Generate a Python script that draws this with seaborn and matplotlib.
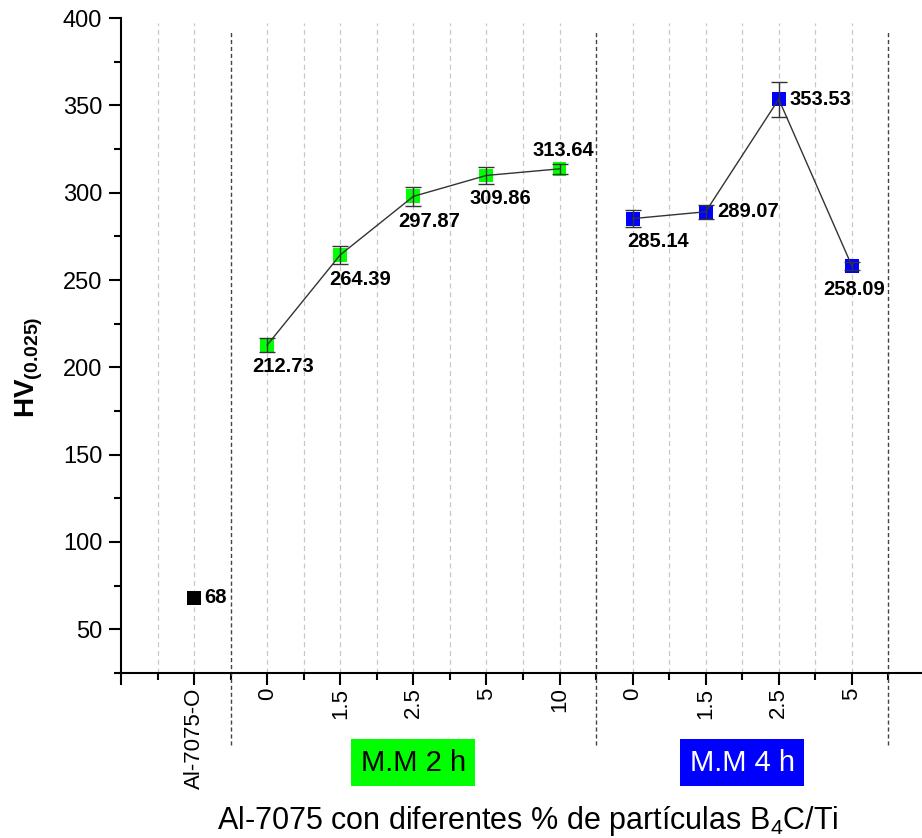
import numpy as np
import pandas as pd
import matplotlib
matplotlib.use('Agg')
import matplotlib.pyplot as plt
import matplotlib.transforms as mtransforms
from matplotlib.ticker import MultipleLocator
import seaborn as sns

# data
tick_labels = ['Al-7075-O', '0', '1.5', '2.5', '5', '10', '0', '1.5', '2.5', '5']
base_hv = [68]
mm2_hv = [212.73, 264.39, 297.87, 309.86, 313.64]
mm2_err = [4, 5, 5.5, 5, 3]
mm4_hv = [285.14, 289.07, 353.53, 258.09]
mm4_err = [5, 4, 10, 2.5]
group_names = ['Al-7075-O', 'M.M 2 h', 'M.M 4 h']
group_colors = {'Al-7075-O': '#000000', 'M.M 2 h': '#00ff00', 'M.M 4 h': '#0000ff'}

df = pd.DataFrame({
    'group': [group_names[0]] * len(base_hv) + [group_names[1]] * len(mm2_hv)
             + [group_names[2]] * len(mm4_hv),
    'hv': base_hv + mm2_hv + mm4_hv,
    'err': [0] * len(base_hv) + mm2_err + mm4_err,
})
df['pos'] = np.arange(1, len(df) + 1)

# label offsets in pixels (dx, dy, ha) per point
label_style = [(10, 0, 'left'), (16, -21, 'center'), (20, -25, 'center'),
               (16, -25, 'center'), (14, -23, 'center'), (4, 18, 'center'),
               (25, -23, 'center'), (12, 0, 'left'), (11, 0, 'left'),
               (2, -24, 'center')]

sns.set_style('ticks')
plt.rcParams['font.family'] = ['Liberation Sans', 'DejaVu Sans']
plt.rcParams['mathtext.fontset'] = 'custom'
plt.rcParams['mathtext.rm'] = 'Liberation Sans'
plt.rcParams['mathtext.bf'] = 'Liberation Sans:bold'
plt.rcParams['mathtext.default'] = 'regular'
plt.rcParams['text.color'] = 'black'
plt.rcParams['axes.labelcolor'] = 'black'
plt.rcParams['xtick.color'] = 'black'
plt.rcParams['ytick.color'] = 'black'

fig = plt.figure(figsize=(9.22, 8.38), dpi=100)
ax = fig.add_axes([121 / 922, 1 - 673 / 838, 1 - 121 / 922, 655 / 838])

ax.set_xlim(0, 10.96)
ax.set_ylim(25, 400)

# separators between sample groups and light grid
seps = [1.5, 6.5, 10.5]
for gx in np.arange(0.5, 10.01, 0.5):
    if gx in seps:
        continue
    ax.axvline(gx, ymax=0.992, color='#c8c8c8', lw=0.9, ls=(0, (4, 3)), zorder=0)
for sx in seps:
    ax.axvline(sx, ymin=-0.11, ymax=0.98, color='#444444', lw=1.0,
               ls=(0, (3, 2)), clip_on=False, zorder=1)

# markers, connecting lines and error bars
sns.scatterplot(data=df, x='pos', y='hv', hue='group', palette=group_colors,
                marker='s', s=100, edgecolor='none', legend=False, ax=ax, zorder=2)
for g in group_names[1:]:
    sub = df[df['group'] == g]
    sns.lineplot(data=sub, x='pos', y='hv', color='#333333', lw=1.0, ax=ax,
                 zorder=3, legend=False)
eb = df[df['err'] > 0]
ax.errorbar(eb['pos'], eb['hv'], yerr=eb['err'], fmt='none', ecolor='#333333',
            elinewidth=1.0, capsize=6, capthick=1.0, zorder=3)

for (p, v), (dx, dy, ha) in zip(zip(df['pos'], df['hv']), label_style):
    ax.annotate(f'{v:g}', (p, v), xytext=(dx, dy), textcoords='offset pixels',
                ha=ha, va='center', fontsize=14.5, fontweight='bold', color='black')

# axes styling
for s in ['top', 'right']:
    ax.spines[s].set_visible(False)
for s in ['left', 'bottom']:
    ax.spines[s].set_linewidth(1.5)
    ax.spines[s].set_color('black')

ax.set_xticks(np.arange(0, 11))
ax.set_xticklabels([''] + tick_labels, rotation=90)
ax.xaxis.set_minor_locator(MultipleLocator(0.5))
ax.yaxis.set_major_locator(MultipleLocator(50))
ax.yaxis.set_minor_locator(MultipleLocator(25))
ax.set_yticks(np.arange(50, 401, 50))
ax.tick_params(which='major', length=8.5, width=1.5, color='black')
ax.tick_params(which='minor', length=5, width=1.5, color='black')
ax.tick_params(axis='x', which='major', pad=2, labelsize=16)
ax.tick_params(axis='y', which='major', pad=5, labelsize=17)

ax.set_xlabel('Al-7075 con diferentes % de partículas B$_4$C/Ti', fontsize=22)
ax.xaxis.set_label_coords(0.508, -0.2)
ax.set_ylabel(r'$\mathbf{HV_{(0.025)}}$', fontsize=20)
ax.yaxis.set_label_coords(-0.095, 0.467)

# group boxes under the axis
trans = mtransforms.blended_transform_factory(ax.transData, ax.transAxes)
box_text = {'M.M 2 h': 'black', 'M.M 4 h': 'white'}
for g in group_names[1:]:
    cx = df.loc[df['group'] == g, 'pos'].mean()
    ax.text(cx, -0.137, g, transform=trans, ha='center', va='center', fontsize=21,
            color=box_text[g],
            bbox=dict(boxstyle='square,pad=0.32', fc=group_colors[g], ec='none'))

fig.savefig('out.png', dpi=100)
